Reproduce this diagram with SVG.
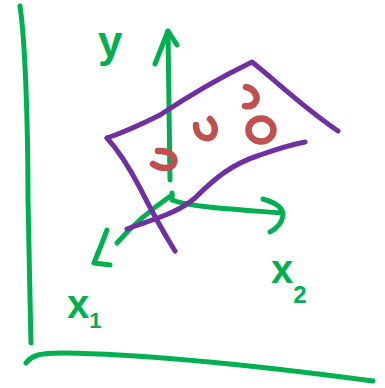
<svg xmlns="http://www.w3.org/2000/svg" width="385" height="388" viewBox="0 0 385 388">
<style>
.g{fill:none;stroke:#00b050;stroke-width:5;stroke-linecap:round;stroke-linejoin:round}
.p{fill:none;stroke:#7030a0;stroke-width:5;stroke-linecap:round;stroke-linejoin:round}
.r{fill:none;stroke:#c0504d;stroke-width:6.5;stroke-linecap:round}
.t{fill:#00b050;font-family:"Liberation Sans",Arial,sans-serif;font-weight:bold}
</style>
<rect width="385" height="388" fill="#fff"/>
<g id="axes">
<path class="g" d="M20,6 C25,40 28,120 28,200 C29,260 30,300 31,343"/>
<path class="g" d="M26,363 C32,355 40,353 62,353 C150,354 260,366 373,381"/>
</g>
<g id="vectors">
<path class="g" d="M168,31 L170,180"/>
<path class="g" d="M155,64 L168,31 L177,45"/>
<path class="g" d="M172,193 L172,200 C190,207 230,209 282,213"/>
<path class="g" d="M263,199 Q284,205 283,216 Q281,226 270,232"/>
<path class="g" d="M172,195 C150,210 130,228 117,243"/>
<path class="g" d="M107,230 Q101,246 94,263 L110,265"/>
</g>
<g id="plane">
<path class="p" d="M107,138 C125,132 140,125 160,115 C190,95 215,80 252,62 C275,80 300,105 338,131"/>
<path class="p" d="M107,138 C118,150 128,165 140,188 C152,212 162,230 175,251"/>
<path class="p" d="M127,229 C150,220 175,215 195,198 C215,178 232,164 260,155 C280,148 295,144 305,142"/>
</g>
<g id="points">
<path class="r" d="M158,151 C170,150 176,157 174,163 C172,169 162,170 153,164"/>
<path class="r" d="M196,125 C196,134 202,139 209,138 C216,136 217,126 210,119"/>
<ellipse class="r" cx="261" cy="130" rx="12.5" ry="11.5"/>
<path class="r" d="M246,87 C255,89 258,97 256,101 C254,105 250,107 245,106"/>
</g>
<g id="labels">
<text class="t" x="98" y="57" font-size="44">y</text>
<text class="t" x="67" y="318" font-size="40">x<tspan font-size="22" dy="10">1</tspan></text>
<text class="t" x="271" y="283" font-size="40">x<tspan font-size="24" dy="20">2</tspan></text>
</g>
</svg>
